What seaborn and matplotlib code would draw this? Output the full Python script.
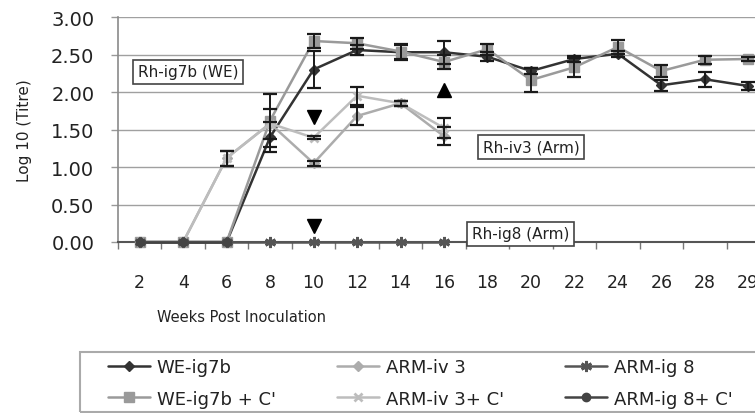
import numpy as np
import pandas as pd
import matplotlib
matplotlib.use("Agg")
import matplotlib.pyplot as plt
import matplotlib.patches as mpatches
from matplotlib.ticker import FixedLocator, FormatStrFormatter
import seaborn as sns

nan = np.nan

weeks = [2, 4, 6, 8, 10, 12, 14, 16, 18, 20, 22, 24, 26, 28, 29]

we_ig7b = [0, 0, 0, 1.40, 2.30, 2.56, 2.53, 2.53, 2.47, 2.28, 2.44, 2.51, 2.09, 2.17, 2.08]
we_ig7b_err = [nan, nan, nan, 0.20, 0.25, 0.07, 0.10, 0.15, 0.06, 0.04, 0.04, 0.04, 0.07, 0.10, 0.05]

we_ig7b_c = [0, 0, 0, 1.62, 2.68, 2.65, 2.54, 2.40, 2.57, 2.16, 2.33, 2.60, 2.28, 2.43, 2.44]
we_ig7b_c_err = [nan, nan, nan, 0.35, 0.09, 0.07, 0.10, 0.09, 0.07, 0.16, 0.13, 0.09, 0.08, 0.05, 0.03]

arm_iv3 = [0, 0, 1.12, 1.58, 1.05, 1.68, 1.85, 1.41] + [nan] * 7
arm_iv3_err = [nan, nan, 0.10, 0.20, 0.03, 0.12, 0.03, 0.12] + [nan] * 7

arm_iv3_c = [0, 0, 1.12, 1.58, 1.39, 1.95, 1.85, 1.52] + [nan] * 7
arm_iv3_c_err = [nan, nan, 0.10, nan, 0.02, 0.12, 0.03, 0.13] + [nan] * 7

arm_ig8 = [0, 0, 0, 0, 0, 0, 0, 0] + [nan] * 7
arm_ig8_c = [0, 0, 0] + [nan] * 12

# arrows drawn on the chart (week, value, direction)
arrow_weeks = [10, 10, 16]
arrow_values = [1.67, 0.22, 2.03]
arrow_marks = ["v", "v", "^"]

# group labels (text, week position, value)
box_labels = [("Rh-ig7b (WE)", 2, 2.27), ("Rh-iv3 (Arm)", 18, 1.27), ("Rh-ig8 (Arm)", 18, 0.11)]
box_offsets = [-0.05, -0.11, -0.36]

series = [
    ("WE-ig7b", we_ig7b, we_ig7b_err, "#333333", "D", 5, 1.0),
    ("WE-ig7b + C'", we_ig7b_c, we_ig7b_c_err, "#9a9a9a", "s", 7, 1.0),
    ("ARM-iv 3", arm_iv3, arm_iv3_err, "#acacac", "D", 5, 1.0),
    ("ARM-iv 3+ C'", arm_iv3_c, arm_iv3_c_err, "#bdbdbd", "x", 6, 2.0),
    ("ARM-ig 8", arm_ig8, None, "#555555", (6, 2, 0), 8, 2.0),
    ("ARM-ig 8+ C'", arm_ig8_c, None, "#444444", "o", 6, 1.0),
]

sns.set_theme(style="white")
plt.rcParams["font.family"] = ["DejaVu Sans"]
plt.rcParams["text.color"] = "#222222"

pos = np.arange(len(weeks))
fig = plt.figure(figsize=(7.55, 4.14), dpi=100)
ax = fig.add_axes([118 / 755, 1 - 243 / 414, 652 / 755, 225 / 414])

for name, vals, errs, color, marker, ms, mew in series:
    df = pd.DataFrame({"pos": pos, "titre": vals}).dropna()
    sns.lineplot(data=df, x="pos", y="titre", ax=ax, color=color, marker=marker,
                 markersize=ms, markeredgewidth=mew, markeredgecolor=color,
                 linewidth=1.8, label=name, clip_on=False, zorder=3)
    if errs is not None:
        e = np.array(errs, dtype=float)
        ok = ~np.isnan(e)
        ax.errorbar(pos[ok], np.array(vals, dtype=float)[ok], yerr=e[ok], fmt="none",
                    ecolor="#1a1a1a", elinewidth=1.4, capsize=5, capthick=1.6,
                    clip_on=False, zorder=4)

for wk, v, m in zip(arrow_weeks, arrow_values, arrow_marks):
    ax.plot(weeks.index(wk), v, marker=m, color="black", markersize=10,
            linestyle="none", zorder=5)

for (txt, wk, v), off in zip(box_labels, box_offsets):
    ax.text(weeks.index(wk) + off, v, txt, fontsize=11, ha="left", va="center",
            color="#222222", zorder=6,
            bbox=dict(boxstyle="square,pad=0.3", facecolor="white",
                      edgecolor="#444444", linewidth=1.2))

ax.set_xlim(-0.5, len(weeks) - 0.5)
ax.set_ylim(0, 3)
ax.set_yticks(np.arange(0, 3.01, 0.5))
ax.yaxis.set_major_formatter(FormatStrFormatter("%.2f"))
ax.set_xticks(pos)
ax.set_xticklabels([str(w) for w in weeks])
ax.xaxis.set_minor_locator(FixedLocator(np.arange(-0.5, len(weeks), 1.0)))
ax.tick_params(axis="x", which="major", length=0, pad=22, labelsize=12.5, colors="#222222")
ax.tick_params(axis="x", which="minor", bottom=True, length=5, width=1, color="#777777")
ax.tick_params(axis="y", left=True, length=5, width=1, pad=12, labelsize=14,
               color="#999999", labelcolor="#222222")

ax.grid(axis="y", color="#a0a0a0", linewidth=1.0)
ax.grid(axis="x", visible=False)
for side in ["top", "right"]:
    ax.spines[side].set_visible(False)
ax.spines["left"].set_color("#8a8a8a")
ax.spines["left"].set_linewidth(1.2)
ax.spines["bottom"].set_color("#555555")
ax.spines["bottom"].set_linewidth(1.5)

ax.set_ylabel("Log 10 (Titre)", fontsize=11, color="#222222")
ax.yaxis.set_label_coords(-0.132, 0.5)
ax.set_xlabel("Weeks Post Inoculation", fontsize=10.5, color="#222222")
ax.xaxis.set_label_coords(0.189, -0.30)

handles, labels = ax.get_legend_handles_labels()
if ax.get_legend() is not None:
    ax.get_legend().remove()
fig.legend(handles, labels, ncol=3, loc="upper left",
           bbox_to_anchor=(108 / 755, 1 - 359 / 414), frameon=False,
           borderpad=0, borderaxespad=0, fontsize=13, handlelength=2.3,
           handletextpad=0.4, columnspacing=3.4, labelspacing=0.75)
fig.patches.append(mpatches.Rectangle((80 / 755, 1 - 413 / 414), 0.95, 60 / 414,
                                      transform=fig.transFigure, fill=False,
                                      edgecolor="#aaaaaa", linewidth=1.5))

fig.savefig("out.png", dpi=100)
